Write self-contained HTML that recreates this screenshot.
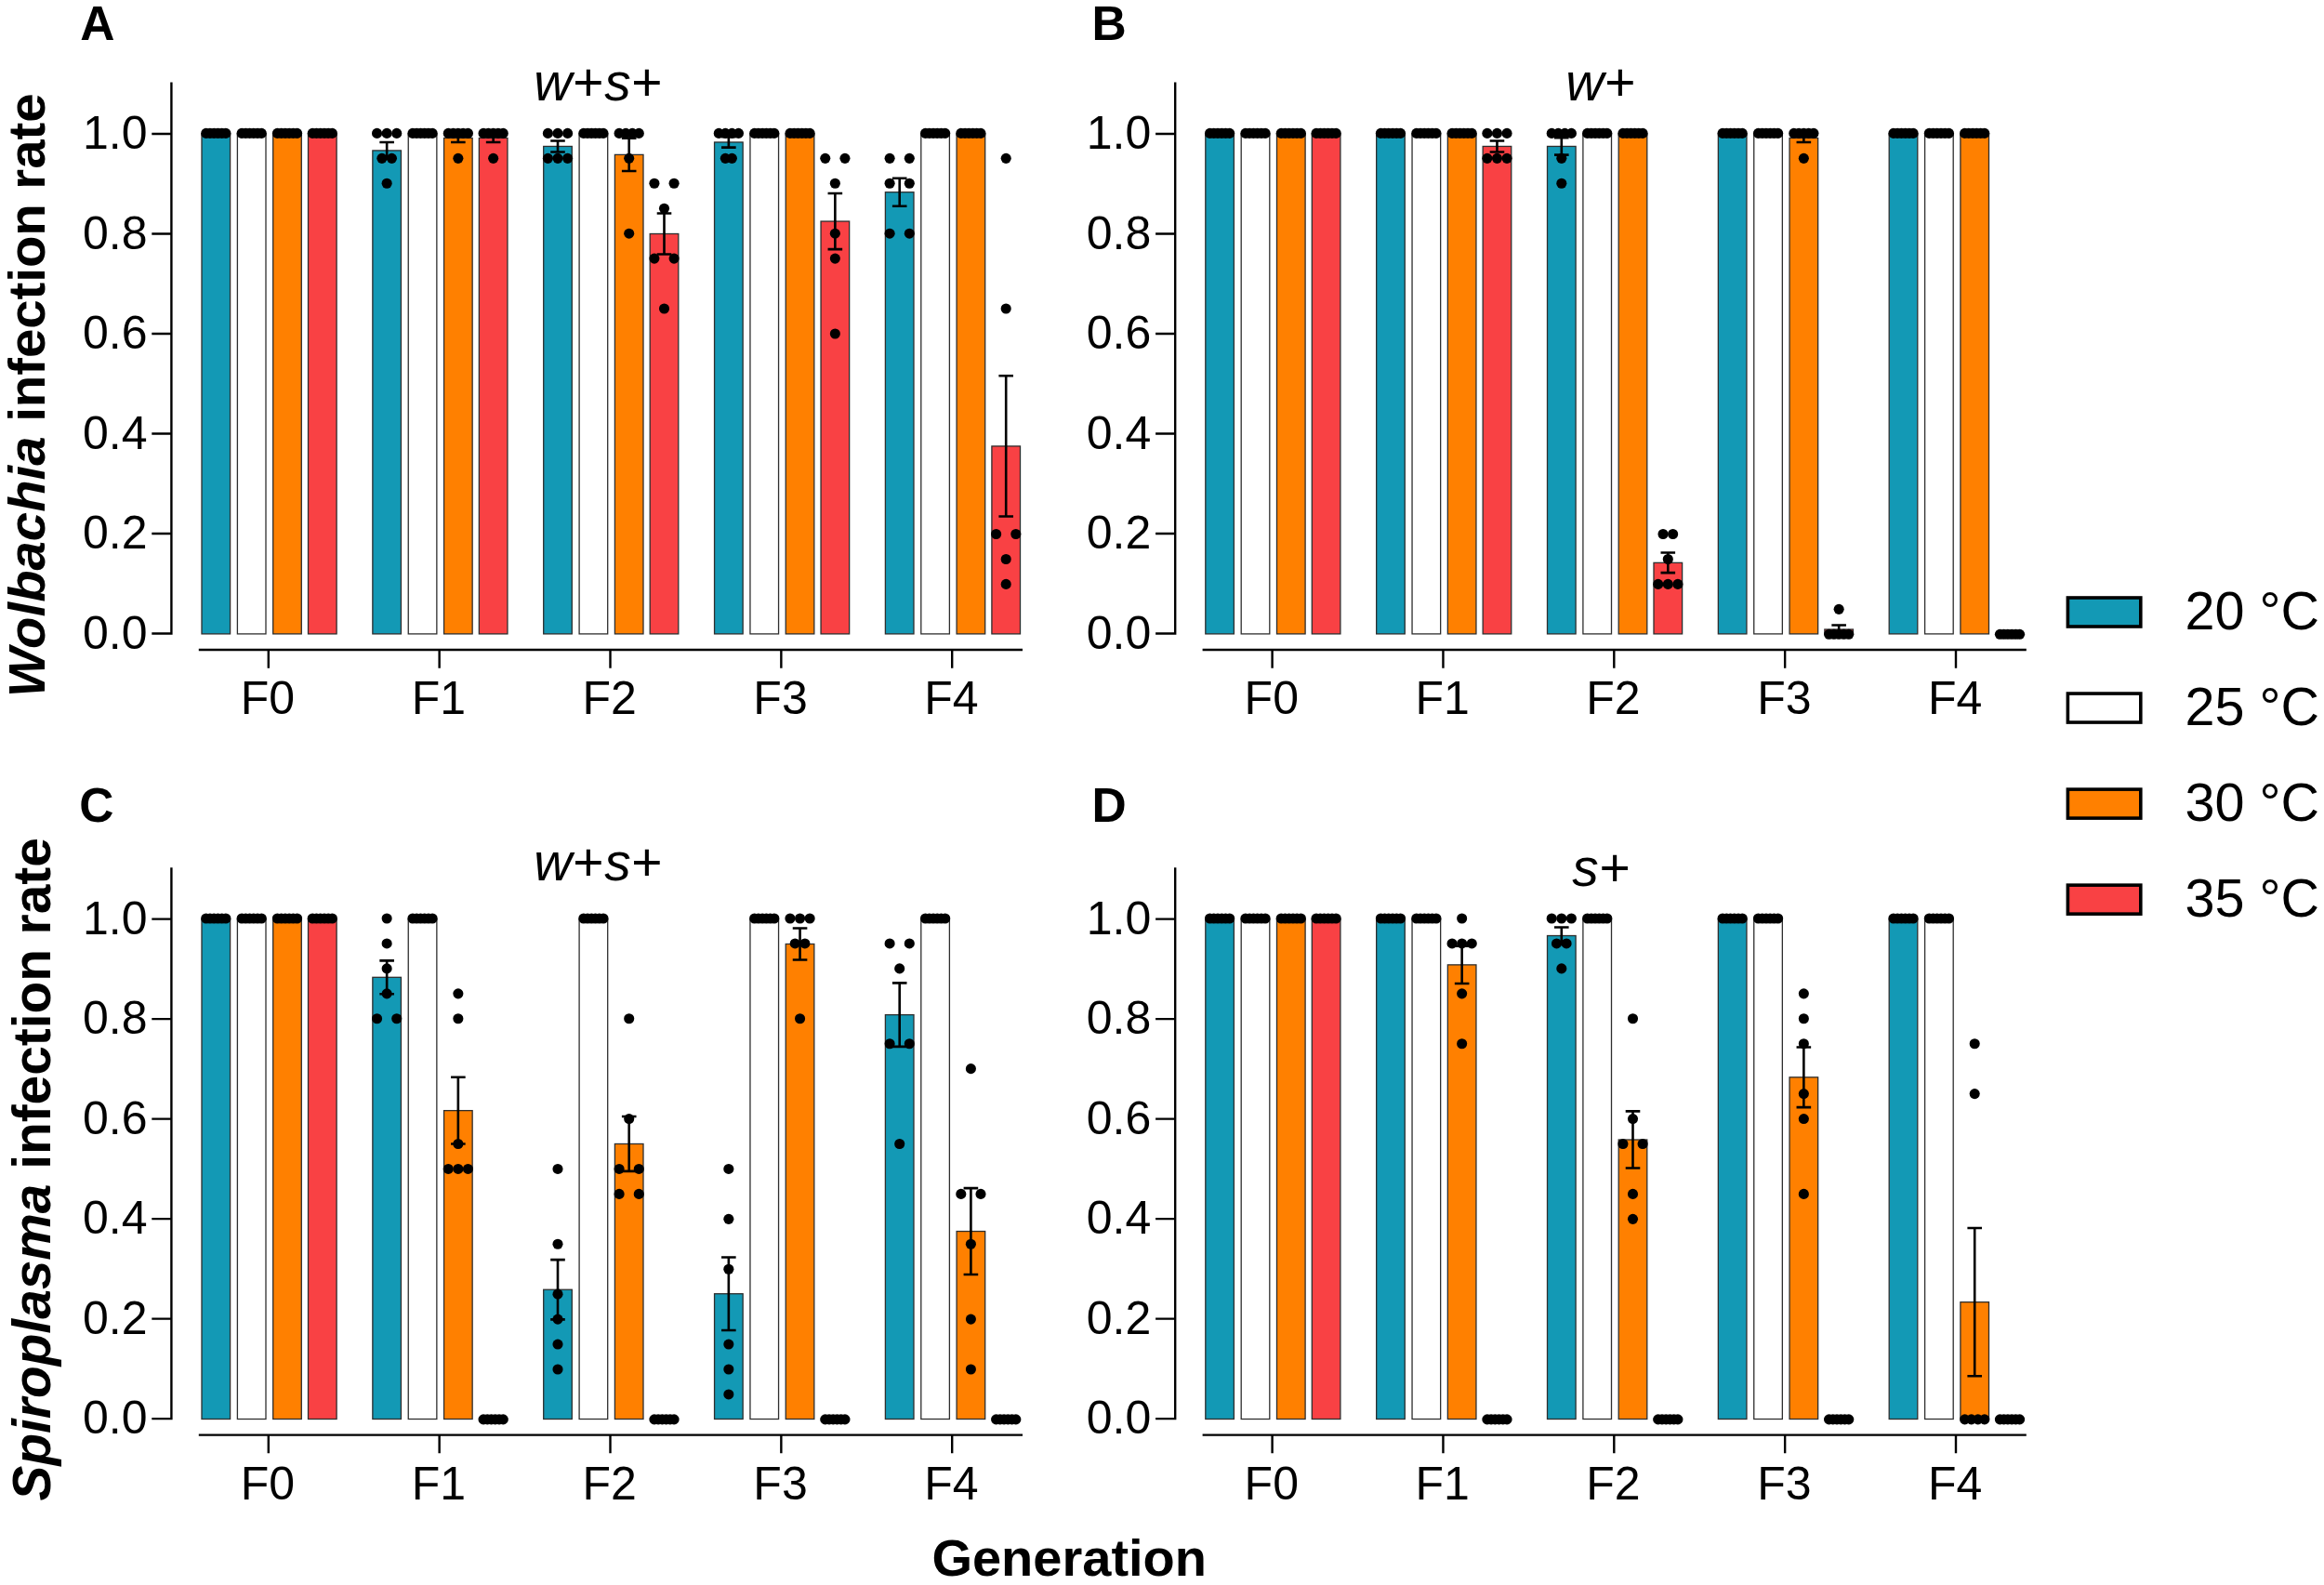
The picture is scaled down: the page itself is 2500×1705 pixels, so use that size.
<!DOCTYPE html>
<html lang="en"><head><meta charset="utf-8"><title>Infection rate by generation</title>
<style>html,body{margin:0;padding:0;background:#fff}svg{display:block}</style></head>
<body>
<svg width="2500" height="1705" viewBox="0 0 2500 1705" font-family="'Liberation Sans', Arial, Helvetica, sans-serif" fill="#000">
<rect width="2500" height="1705" fill="#fff"/>
<g transform="translate(0,0)">
<g stroke="#2e2e2e" stroke-width="1.3"><rect x="217" y="144" width="30.6" height="537.9" fill="#1399B5"/><rect x="255.4" y="144" width="30.6" height="537.9" fill="#FFFFFF"/><rect x="293.7" y="144" width="30.6" height="537.9" fill="#FF8000"/><rect x="331.5" y="144" width="30.6" height="537.9" fill="#F94144"/><rect x="400.85" y="161.92" width="30.6" height="519.98" fill="#1399B5"/><rect x="439.25" y="144" width="30.6" height="537.9" fill="#FFFFFF"/><rect x="477.55" y="148.48" width="30.6" height="533.42" fill="#FF8000"/><rect x="515.35" y="148.48" width="30.6" height="533.42" fill="#F94144"/><rect x="584.7" y="157.44" width="30.6" height="524.46" fill="#1399B5"/><rect x="623.1" y="144" width="30.6" height="537.9" fill="#FFFFFF"/><rect x="661.4" y="166.4" width="30.6" height="515.5" fill="#FF8000"/><rect x="699.2" y="251.5" width="30.6" height="430.4" fill="#F94144"/><rect x="768.55" y="152.96" width="30.6" height="528.94" fill="#1399B5"/><rect x="806.95" y="144" width="30.6" height="537.9" fill="#FFFFFF"/><rect x="845.25" y="144" width="30.6" height="537.9" fill="#FF8000"/><rect x="883.05" y="238.06" width="30.6" height="443.84" fill="#F94144"/><rect x="952.4" y="206.71" width="30.6" height="475.19" fill="#1399B5"/><rect x="990.8" y="144" width="30.6" height="537.9" fill="#FFFFFF"/><rect x="1029.1" y="144" width="30.6" height="537.9" fill="#FF8000"/><rect x="1066.9" y="479.94" width="30.6" height="201.96" fill="#F94144"/></g>
<g stroke="#000" stroke-width="2.6" fill="none"><path d="M416.15 152.96V170.88M408.35 152.96h15.6M408.35 170.88h15.6"/><path d="M492.85 144V152.96M485.05 144h15.6M485.05 152.96h15.6"/><path d="M530.65 144V152.96M522.85 144h15.6M522.85 152.96h15.6"/><path d="M600 151.43V163.45M592.2 151.43h15.6M592.2 163.45h15.6"/><path d="M676.7 148.82V183.97M668.9 148.82h15.6M668.9 183.97h15.6"/><path d="M714.5 229.56V273.44M706.7 229.56h15.6M706.7 273.44h15.6"/><path d="M783.85 147.29V158.62M776.05 147.29h15.6M776.05 158.62h15.6"/><path d="M898.35 208.02V268.11M890.55 208.02h15.6M890.55 268.11h15.6"/><path d="M967.7 191.72V221.7M959.9 191.72h15.6M959.9 221.7h15.6"/><path d="M1082.2 404.32V555.55M1074.4 404.32h15.6M1074.4 555.55h15.6"/></g>
<g fill="#000"><circle cx="221.7" cy="143.4" r="5.55"/><circle cx="225.94" cy="143.4" r="5.55"/><circle cx="230.18" cy="143.4" r="5.55"/><circle cx="234.42" cy="143.4" r="5.55"/><circle cx="238.66" cy="143.4" r="5.55"/><circle cx="242.9" cy="143.4" r="5.55"/><circle cx="260.1" cy="143.4" r="5.55"/><circle cx="264.34" cy="143.4" r="5.55"/><circle cx="268.58" cy="143.4" r="5.55"/><circle cx="272.82" cy="143.4" r="5.55"/><circle cx="277.06" cy="143.4" r="5.55"/><circle cx="281.3" cy="143.4" r="5.55"/><circle cx="298.4" cy="143.4" r="5.55"/><circle cx="302.64" cy="143.4" r="5.55"/><circle cx="306.88" cy="143.4" r="5.55"/><circle cx="311.12" cy="143.4" r="5.55"/><circle cx="315.36" cy="143.4" r="5.55"/><circle cx="319.6" cy="143.4" r="5.55"/><circle cx="336.2" cy="143.4" r="5.55"/><circle cx="340.44" cy="143.4" r="5.55"/><circle cx="344.68" cy="143.4" r="5.55"/><circle cx="348.92" cy="143.4" r="5.55"/><circle cx="353.16" cy="143.4" r="5.55"/><circle cx="357.4" cy="143.4" r="5.55"/><circle cx="405.55" cy="143.4" r="5.55"/><circle cx="416.15" cy="143.4" r="5.55"/><circle cx="426.75" cy="143.4" r="5.55"/><circle cx="410.85" cy="170.35" r="5.55"/><circle cx="421.45" cy="170.35" r="5.55"/><circle cx="416.15" cy="197.29" r="5.55"/><circle cx="443.95" cy="143.4" r="5.55"/><circle cx="448.19" cy="143.4" r="5.55"/><circle cx="452.43" cy="143.4" r="5.55"/><circle cx="456.67" cy="143.4" r="5.55"/><circle cx="460.91" cy="143.4" r="5.55"/><circle cx="465.15" cy="143.4" r="5.55"/><circle cx="482.25" cy="143.4" r="5.55"/><circle cx="487.55" cy="143.4" r="5.55"/><circle cx="492.85" cy="143.4" r="5.55"/><circle cx="498.15" cy="143.4" r="5.55"/><circle cx="503.45" cy="143.4" r="5.55"/><circle cx="492.85" cy="170.35" r="5.55"/><circle cx="520.05" cy="143.4" r="5.55"/><circle cx="525.35" cy="143.4" r="5.55"/><circle cx="530.65" cy="143.4" r="5.55"/><circle cx="535.95" cy="143.4" r="5.55"/><circle cx="541.25" cy="143.4" r="5.55"/><circle cx="530.65" cy="170.35" r="5.55"/><circle cx="589.4" cy="143.4" r="5.55"/><circle cx="600" cy="143.4" r="5.55"/><circle cx="610.6" cy="143.4" r="5.55"/><circle cx="589.4" cy="170.35" r="5.55"/><circle cx="600" cy="170.35" r="5.55"/><circle cx="610.6" cy="170.35" r="5.55"/><circle cx="627.8" cy="143.4" r="5.55"/><circle cx="632.04" cy="143.4" r="5.55"/><circle cx="636.28" cy="143.4" r="5.55"/><circle cx="640.52" cy="143.4" r="5.55"/><circle cx="644.76" cy="143.4" r="5.55"/><circle cx="649" cy="143.4" r="5.55"/><circle cx="666.1" cy="143.4" r="5.55"/><circle cx="673.17" cy="143.4" r="5.55"/><circle cx="680.23" cy="143.4" r="5.55"/><circle cx="687.3" cy="143.4" r="5.55"/><circle cx="676.7" cy="170.35" r="5.55"/><circle cx="676.7" cy="251.18" r="5.55"/><circle cx="703.9" cy="197.29" r="5.55"/><circle cx="725.1" cy="197.29" r="5.55"/><circle cx="714.5" cy="224.24" r="5.55"/><circle cx="703.9" cy="278.12" r="5.55"/><circle cx="725.1" cy="278.12" r="5.55"/><circle cx="714.5" cy="332.01" r="5.55"/><circle cx="773.25" cy="143.4" r="5.55"/><circle cx="780.32" cy="143.4" r="5.55"/><circle cx="787.38" cy="143.4" r="5.55"/><circle cx="794.45" cy="143.4" r="5.55"/><circle cx="780.32" cy="170.35" r="5.55"/><circle cx="787.38" cy="170.35" r="5.55"/><circle cx="811.65" cy="143.4" r="5.55"/><circle cx="815.89" cy="143.4" r="5.55"/><circle cx="820.13" cy="143.4" r="5.55"/><circle cx="824.37" cy="143.4" r="5.55"/><circle cx="828.61" cy="143.4" r="5.55"/><circle cx="832.85" cy="143.4" r="5.55"/><circle cx="849.95" cy="143.4" r="5.55"/><circle cx="854.19" cy="143.4" r="5.55"/><circle cx="858.43" cy="143.4" r="5.55"/><circle cx="862.67" cy="143.4" r="5.55"/><circle cx="866.91" cy="143.4" r="5.55"/><circle cx="871.15" cy="143.4" r="5.55"/><circle cx="887.75" cy="170.35" r="5.55"/><circle cx="908.95" cy="170.35" r="5.55"/><circle cx="898.35" cy="197.29" r="5.55"/><circle cx="898.35" cy="251.18" r="5.55"/><circle cx="898.35" cy="278.12" r="5.55"/><circle cx="898.35" cy="358.96" r="5.55"/><circle cx="957.1" cy="170.35" r="5.55"/><circle cx="978.3" cy="170.35" r="5.55"/><circle cx="957.1" cy="197.29" r="5.55"/><circle cx="978.3" cy="197.29" r="5.55"/><circle cx="957.1" cy="251.18" r="5.55"/><circle cx="978.3" cy="251.18" r="5.55"/><circle cx="995.5" cy="143.4" r="5.55"/><circle cx="999.74" cy="143.4" r="5.55"/><circle cx="1003.98" cy="143.4" r="5.55"/><circle cx="1008.22" cy="143.4" r="5.55"/><circle cx="1012.46" cy="143.4" r="5.55"/><circle cx="1016.7" cy="143.4" r="5.55"/><circle cx="1033.8" cy="143.4" r="5.55"/><circle cx="1038.04" cy="143.4" r="5.55"/><circle cx="1042.28" cy="143.4" r="5.55"/><circle cx="1046.52" cy="143.4" r="5.55"/><circle cx="1050.76" cy="143.4" r="5.55"/><circle cx="1055" cy="143.4" r="5.55"/><circle cx="1082.2" cy="170.35" r="5.55"/><circle cx="1082.2" cy="332.01" r="5.55"/><circle cx="1071.6" cy="574.52" r="5.55"/><circle cx="1092.8" cy="574.52" r="5.55"/><circle cx="1082.2" cy="601.46" r="5.55"/><circle cx="1082.2" cy="628.41" r="5.55"/></g>
<path d="M184.4 88.6V682.7M184.4 681.5H163.3M184.4 574H163.3M184.4 466.5H163.3M184.4 359H163.3M184.4 251.5H163.3M184.4 144H163.3M213.8 699H1100M288.8 699V718.7M472.65 699V718.7M656.5 699V718.7M840.35 699V718.7M1024.2 699V718.7" stroke="#000" stroke-width="2.4" fill="none"/>
<g font-size="50">
<text x="158.5" y="697.5" text-anchor="end">0.0</text>
<text x="158.5" y="590" text-anchor="end">0.2</text>
<text x="158.5" y="482.5" text-anchor="end">0.4</text>
<text x="158.5" y="375" text-anchor="end">0.6</text>
<text x="158.5" y="267.5" text-anchor="end">0.8</text>
<text x="158.5" y="160" text-anchor="end">1.0</text>
<text x="288" y="768.2" text-anchor="middle">F0</text>
<text x="471.85" y="768.2" text-anchor="middle">F1</text>
<text x="655.7" y="768.2" text-anchor="middle">F2</text>
<text x="839.55" y="768.2" text-anchor="middle">F3</text>
<text x="1023.4" y="768.2" text-anchor="middle">F4</text>
</g>
<text x="643.8" y="108.1" font-size="57" letter-spacing="0.7" text-anchor="middle"><tspan font-style="italic">w</tspan>+<tspan font-style="italic">s</tspan>+</text>
</g>
<text x="86.3" y="42.9" font-size="51.5" font-weight="bold">A</text>
<g transform="translate(1079.8,0)">
<g stroke="#2e2e2e" stroke-width="1.3"><rect x="217" y="144" width="30.6" height="537.9" fill="#1399B5"/><rect x="255.4" y="144" width="30.6" height="537.9" fill="#FFFFFF"/><rect x="293.7" y="144" width="30.6" height="537.9" fill="#FF8000"/><rect x="331.5" y="144" width="30.6" height="537.9" fill="#F94144"/><rect x="400.85" y="144" width="30.6" height="537.9" fill="#1399B5"/><rect x="439.25" y="144" width="30.6" height="537.9" fill="#FFFFFF"/><rect x="477.55" y="144" width="30.6" height="537.9" fill="#FF8000"/><rect x="515.35" y="157.44" width="30.6" height="524.46" fill="#F94144"/><rect x="584.7" y="157.44" width="30.6" height="524.46" fill="#1399B5"/><rect x="623.1" y="144" width="30.6" height="537.9" fill="#FFFFFF"/><rect x="661.4" y="144" width="30.6" height="537.9" fill="#FF8000"/><rect x="699.2" y="605.35" width="30.6" height="76.55" fill="#F94144"/><rect x="768.55" y="144" width="30.6" height="537.9" fill="#1399B5"/><rect x="806.95" y="144" width="30.6" height="537.9" fill="#FFFFFF"/><rect x="845.25" y="148.48" width="30.6" height="533.42" fill="#FF8000"/><rect x="883.05" y="677.02" width="30.6" height="4.88" fill="#F94144"/><rect x="952.4" y="144" width="30.6" height="537.9" fill="#1399B5"/><rect x="990.8" y="144" width="30.6" height="537.9" fill="#FFFFFF"/><rect x="1029.1" y="144" width="30.6" height="537.9" fill="#FF8000"/></g>
<g stroke="#000" stroke-width="2.6" fill="none"><path d="M530.65 151.43V163.45M522.85 151.43h15.6M522.85 163.45h15.6"/><path d="M600 148.26V166.62M592.2 148.26h15.6M592.2 166.62h15.6"/><path d="M714.5 594.57V616.14M706.7 594.57h15.6M706.7 616.14h15.6"/><path d="M860.55 144V152.96M852.75 144h15.6M852.75 152.96h15.6"/><path d="M898.35 672.54V681.5M890.55 672.54h15.6M890.55 681.5h15.6"/></g>
<g fill="#000"><circle cx="221.7" cy="143.4" r="5.55"/><circle cx="225.94" cy="143.4" r="5.55"/><circle cx="230.18" cy="143.4" r="5.55"/><circle cx="234.42" cy="143.4" r="5.55"/><circle cx="238.66" cy="143.4" r="5.55"/><circle cx="242.9" cy="143.4" r="5.55"/><circle cx="260.1" cy="143.4" r="5.55"/><circle cx="264.34" cy="143.4" r="5.55"/><circle cx="268.58" cy="143.4" r="5.55"/><circle cx="272.82" cy="143.4" r="5.55"/><circle cx="277.06" cy="143.4" r="5.55"/><circle cx="281.3" cy="143.4" r="5.55"/><circle cx="298.4" cy="143.4" r="5.55"/><circle cx="302.64" cy="143.4" r="5.55"/><circle cx="306.88" cy="143.4" r="5.55"/><circle cx="311.12" cy="143.4" r="5.55"/><circle cx="315.36" cy="143.4" r="5.55"/><circle cx="319.6" cy="143.4" r="5.55"/><circle cx="336.2" cy="143.4" r="5.55"/><circle cx="340.44" cy="143.4" r="5.55"/><circle cx="344.68" cy="143.4" r="5.55"/><circle cx="348.92" cy="143.4" r="5.55"/><circle cx="353.16" cy="143.4" r="5.55"/><circle cx="357.4" cy="143.4" r="5.55"/><circle cx="405.55" cy="143.4" r="5.55"/><circle cx="409.79" cy="143.4" r="5.55"/><circle cx="414.03" cy="143.4" r="5.55"/><circle cx="418.27" cy="143.4" r="5.55"/><circle cx="422.51" cy="143.4" r="5.55"/><circle cx="426.75" cy="143.4" r="5.55"/><circle cx="443.95" cy="143.4" r="5.55"/><circle cx="448.19" cy="143.4" r="5.55"/><circle cx="452.43" cy="143.4" r="5.55"/><circle cx="456.67" cy="143.4" r="5.55"/><circle cx="460.91" cy="143.4" r="5.55"/><circle cx="465.15" cy="143.4" r="5.55"/><circle cx="482.25" cy="143.4" r="5.55"/><circle cx="486.49" cy="143.4" r="5.55"/><circle cx="490.73" cy="143.4" r="5.55"/><circle cx="494.97" cy="143.4" r="5.55"/><circle cx="499.21" cy="143.4" r="5.55"/><circle cx="503.45" cy="143.4" r="5.55"/><circle cx="520.05" cy="143.4" r="5.55"/><circle cx="530.65" cy="143.4" r="5.55"/><circle cx="541.25" cy="143.4" r="5.55"/><circle cx="520.05" cy="170.35" r="5.55"/><circle cx="530.65" cy="170.35" r="5.55"/><circle cx="541.25" cy="170.35" r="5.55"/><circle cx="589.4" cy="143.4" r="5.55"/><circle cx="596.47" cy="143.4" r="5.55"/><circle cx="603.53" cy="143.4" r="5.55"/><circle cx="610.6" cy="143.4" r="5.55"/><circle cx="600" cy="170.35" r="5.55"/><circle cx="600" cy="197.29" r="5.55"/><circle cx="627.8" cy="143.4" r="5.55"/><circle cx="632.04" cy="143.4" r="5.55"/><circle cx="636.28" cy="143.4" r="5.55"/><circle cx="640.52" cy="143.4" r="5.55"/><circle cx="644.76" cy="143.4" r="5.55"/><circle cx="649" cy="143.4" r="5.55"/><circle cx="666.1" cy="143.4" r="5.55"/><circle cx="670.34" cy="143.4" r="5.55"/><circle cx="674.58" cy="143.4" r="5.55"/><circle cx="678.82" cy="143.4" r="5.55"/><circle cx="683.06" cy="143.4" r="5.55"/><circle cx="687.3" cy="143.4" r="5.55"/><circle cx="709.2" cy="574.52" r="5.55"/><circle cx="719.8" cy="574.52" r="5.55"/><circle cx="714.5" cy="601.46" r="5.55"/><circle cx="703.9" cy="628.41" r="5.55"/><circle cx="714.5" cy="628.41" r="5.55"/><circle cx="725.1" cy="628.41" r="5.55"/><circle cx="773.25" cy="143.4" r="5.55"/><circle cx="777.49" cy="143.4" r="5.55"/><circle cx="781.73" cy="143.4" r="5.55"/><circle cx="785.97" cy="143.4" r="5.55"/><circle cx="790.21" cy="143.4" r="5.55"/><circle cx="794.45" cy="143.4" r="5.55"/><circle cx="811.65" cy="143.4" r="5.55"/><circle cx="815.89" cy="143.4" r="5.55"/><circle cx="820.13" cy="143.4" r="5.55"/><circle cx="824.37" cy="143.4" r="5.55"/><circle cx="828.61" cy="143.4" r="5.55"/><circle cx="832.85" cy="143.4" r="5.55"/><circle cx="849.95" cy="143.4" r="5.55"/><circle cx="855.25" cy="143.4" r="5.55"/><circle cx="860.55" cy="143.4" r="5.55"/><circle cx="865.85" cy="143.4" r="5.55"/><circle cx="871.15" cy="143.4" r="5.55"/><circle cx="860.55" cy="170.35" r="5.55"/><circle cx="898.35" cy="655.35" r="5.55"/><circle cx="887.75" cy="682.3" r="5.55"/><circle cx="893.05" cy="682.3" r="5.55"/><circle cx="898.35" cy="682.3" r="5.55"/><circle cx="903.65" cy="682.3" r="5.55"/><circle cx="908.95" cy="682.3" r="5.55"/><circle cx="957.1" cy="143.4" r="5.55"/><circle cx="961.34" cy="143.4" r="5.55"/><circle cx="965.58" cy="143.4" r="5.55"/><circle cx="969.82" cy="143.4" r="5.55"/><circle cx="974.06" cy="143.4" r="5.55"/><circle cx="978.3" cy="143.4" r="5.55"/><circle cx="995.5" cy="143.4" r="5.55"/><circle cx="999.74" cy="143.4" r="5.55"/><circle cx="1003.98" cy="143.4" r="5.55"/><circle cx="1008.22" cy="143.4" r="5.55"/><circle cx="1012.46" cy="143.4" r="5.55"/><circle cx="1016.7" cy="143.4" r="5.55"/><circle cx="1033.8" cy="143.4" r="5.55"/><circle cx="1038.04" cy="143.4" r="5.55"/><circle cx="1042.28" cy="143.4" r="5.55"/><circle cx="1046.52" cy="143.4" r="5.55"/><circle cx="1050.76" cy="143.4" r="5.55"/><circle cx="1055" cy="143.4" r="5.55"/><circle cx="1071.6" cy="682.3" r="5.55"/><circle cx="1075.84" cy="682.3" r="5.55"/><circle cx="1080.08" cy="682.3" r="5.55"/><circle cx="1084.32" cy="682.3" r="5.55"/><circle cx="1088.56" cy="682.3" r="5.55"/><circle cx="1092.8" cy="682.3" r="5.55"/></g>
<path d="M184.4 88.6V682.7M184.4 681.5H163.3M184.4 574H163.3M184.4 466.5H163.3M184.4 359H163.3M184.4 251.5H163.3M184.4 144H163.3M213.8 699H1100M288.8 699V718.7M472.65 699V718.7M656.5 699V718.7M840.35 699V718.7M1024.2 699V718.7" stroke="#000" stroke-width="2.4" fill="none"/>
<g font-size="50">
<text x="158.5" y="697.5" text-anchor="end">0.0</text>
<text x="158.5" y="590" text-anchor="end">0.2</text>
<text x="158.5" y="482.5" text-anchor="end">0.4</text>
<text x="158.5" y="375" text-anchor="end">0.6</text>
<text x="158.5" y="267.5" text-anchor="end">0.8</text>
<text x="158.5" y="160" text-anchor="end">1.0</text>
<text x="288" y="768.2" text-anchor="middle">F0</text>
<text x="471.85" y="768.2" text-anchor="middle">F1</text>
<text x="655.7" y="768.2" text-anchor="middle">F2</text>
<text x="839.55" y="768.2" text-anchor="middle">F3</text>
<text x="1023.4" y="768.2" text-anchor="middle">F4</text>
</g>
<text x="642.5" y="108.1" font-size="57" letter-spacing="0.7" text-anchor="middle"><tspan font-style="italic">w</tspan>+</text>
</g>
<text x="1174.5" y="42.9" font-size="51.5" font-weight="bold">B</text>
<g transform="translate(0,844.6)">
<g stroke="#2e2e2e" stroke-width="1.3"><rect x="217" y="144" width="30.6" height="537.9" fill="#1399B5"/><rect x="255.4" y="144" width="30.6" height="537.9" fill="#FFFFFF"/><rect x="293.7" y="144" width="30.6" height="537.9" fill="#FF8000"/><rect x="331.5" y="144" width="30.6" height="537.9" fill="#F94144"/><rect x="400.85" y="206.71" width="30.6" height="475.19" fill="#1399B5"/><rect x="439.25" y="144" width="30.6" height="537.9" fill="#FFFFFF"/><rect x="477.55" y="350.04" width="30.6" height="331.86" fill="#FF8000"/><rect x="584.7" y="542.65" width="30.6" height="139.25" fill="#1399B5"/><rect x="623.1" y="144" width="30.6" height="537.9" fill="#FFFFFF"/><rect x="661.4" y="385.88" width="30.6" height="296.02" fill="#FF8000"/><rect x="768.55" y="547.12" width="30.6" height="134.77" fill="#1399B5"/><rect x="806.95" y="144" width="30.6" height="537.9" fill="#FFFFFF"/><rect x="845.25" y="170.87" width="30.6" height="511.03" fill="#FF8000"/><rect x="952.4" y="247.02" width="30.6" height="434.88" fill="#1399B5"/><rect x="990.8" y="144" width="30.6" height="537.9" fill="#FFFFFF"/><rect x="1029.1" y="479.94" width="30.6" height="201.96" fill="#FF8000"/></g>
<g stroke="#000" stroke-width="2.6" fill="none"><path d="M416.15 188.79V224.62M408.35 188.79h15.6M408.35 224.62h15.6"/><path d="M492.85 314.21V385.88M485.05 314.21h15.6M485.05 385.88h15.6"/><path d="M600 510.53V574.76M592.2 510.53h15.6M592.2 574.76h15.6"/><path d="M676.7 356.43V415.32M668.9 356.43h15.6M668.9 415.32h15.6"/><path d="M783.85 507.87V586.38M776.05 507.87h15.6M776.05 586.38h15.6"/><path d="M860.55 153.88V187.87M852.75 153.88h15.6M852.75 187.87h15.6"/><path d="M967.7 212.73V281.31M959.9 212.73h15.6M959.9 281.31h15.6"/><path d="M1044.4 433.52V526.36M1036.6 433.52h15.6M1036.6 526.36h15.6"/></g>
<g fill="#000"><circle cx="221.7" cy="143.4" r="5.55"/><circle cx="225.94" cy="143.4" r="5.55"/><circle cx="230.18" cy="143.4" r="5.55"/><circle cx="234.42" cy="143.4" r="5.55"/><circle cx="238.66" cy="143.4" r="5.55"/><circle cx="242.9" cy="143.4" r="5.55"/><circle cx="260.1" cy="143.4" r="5.55"/><circle cx="264.34" cy="143.4" r="5.55"/><circle cx="268.58" cy="143.4" r="5.55"/><circle cx="272.82" cy="143.4" r="5.55"/><circle cx="277.06" cy="143.4" r="5.55"/><circle cx="281.3" cy="143.4" r="5.55"/><circle cx="298.4" cy="143.4" r="5.55"/><circle cx="302.64" cy="143.4" r="5.55"/><circle cx="306.88" cy="143.4" r="5.55"/><circle cx="311.12" cy="143.4" r="5.55"/><circle cx="315.36" cy="143.4" r="5.55"/><circle cx="319.6" cy="143.4" r="5.55"/><circle cx="336.2" cy="143.4" r="5.55"/><circle cx="340.44" cy="143.4" r="5.55"/><circle cx="344.68" cy="143.4" r="5.55"/><circle cx="348.92" cy="143.4" r="5.55"/><circle cx="353.16" cy="143.4" r="5.55"/><circle cx="357.4" cy="143.4" r="5.55"/><circle cx="416.15" cy="143.4" r="5.55"/><circle cx="416.15" cy="170.35" r="5.55"/><circle cx="416.15" cy="197.29" r="5.55"/><circle cx="416.15" cy="224.24" r="5.55"/><circle cx="405.55" cy="251.18" r="5.55"/><circle cx="426.75" cy="251.18" r="5.55"/><circle cx="443.95" cy="143.4" r="5.55"/><circle cx="448.19" cy="143.4" r="5.55"/><circle cx="452.43" cy="143.4" r="5.55"/><circle cx="456.67" cy="143.4" r="5.55"/><circle cx="460.91" cy="143.4" r="5.55"/><circle cx="465.15" cy="143.4" r="5.55"/><circle cx="492.85" cy="224.24" r="5.55"/><circle cx="492.85" cy="251.18" r="5.55"/><circle cx="492.85" cy="385.9" r="5.55"/><circle cx="482.25" cy="412.85" r="5.55"/><circle cx="492.85" cy="412.85" r="5.55"/><circle cx="503.45" cy="412.85" r="5.55"/><circle cx="520.05" cy="682.3" r="5.55"/><circle cx="524.29" cy="682.3" r="5.55"/><circle cx="528.53" cy="682.3" r="5.55"/><circle cx="532.77" cy="682.3" r="5.55"/><circle cx="537.01" cy="682.3" r="5.55"/><circle cx="541.25" cy="682.3" r="5.55"/><circle cx="600" cy="412.85" r="5.55"/><circle cx="600" cy="493.68" r="5.55"/><circle cx="600" cy="547.57" r="5.55"/><circle cx="600" cy="574.52" r="5.55"/><circle cx="600" cy="601.46" r="5.55"/><circle cx="600" cy="628.41" r="5.55"/><circle cx="627.8" cy="143.4" r="5.55"/><circle cx="632.04" cy="143.4" r="5.55"/><circle cx="636.28" cy="143.4" r="5.55"/><circle cx="640.52" cy="143.4" r="5.55"/><circle cx="644.76" cy="143.4" r="5.55"/><circle cx="649" cy="143.4" r="5.55"/><circle cx="676.7" cy="251.18" r="5.55"/><circle cx="676.7" cy="358.96" r="5.55"/><circle cx="666.1" cy="412.85" r="5.55"/><circle cx="687.3" cy="412.85" r="5.55"/><circle cx="666.1" cy="439.79" r="5.55"/><circle cx="687.3" cy="439.79" r="5.55"/><circle cx="703.9" cy="682.3" r="5.55"/><circle cx="708.14" cy="682.3" r="5.55"/><circle cx="712.38" cy="682.3" r="5.55"/><circle cx="716.62" cy="682.3" r="5.55"/><circle cx="720.86" cy="682.3" r="5.55"/><circle cx="725.1" cy="682.3" r="5.55"/><circle cx="783.85" cy="412.85" r="5.55"/><circle cx="783.85" cy="466.74" r="5.55"/><circle cx="783.85" cy="520.63" r="5.55"/><circle cx="783.85" cy="601.46" r="5.55"/><circle cx="783.85" cy="628.41" r="5.55"/><circle cx="783.85" cy="655.35" r="5.55"/><circle cx="811.65" cy="143.4" r="5.55"/><circle cx="815.89" cy="143.4" r="5.55"/><circle cx="820.13" cy="143.4" r="5.55"/><circle cx="824.37" cy="143.4" r="5.55"/><circle cx="828.61" cy="143.4" r="5.55"/><circle cx="832.85" cy="143.4" r="5.55"/><circle cx="849.95" cy="143.4" r="5.55"/><circle cx="860.55" cy="143.4" r="5.55"/><circle cx="871.15" cy="143.4" r="5.55"/><circle cx="855.25" cy="170.35" r="5.55"/><circle cx="865.85" cy="170.35" r="5.55"/><circle cx="860.55" cy="251.18" r="5.55"/><circle cx="887.75" cy="682.3" r="5.55"/><circle cx="891.99" cy="682.3" r="5.55"/><circle cx="896.23" cy="682.3" r="5.55"/><circle cx="900.47" cy="682.3" r="5.55"/><circle cx="904.71" cy="682.3" r="5.55"/><circle cx="908.95" cy="682.3" r="5.55"/><circle cx="957.1" cy="170.35" r="5.55"/><circle cx="978.3" cy="170.35" r="5.55"/><circle cx="967.7" cy="197.29" r="5.55"/><circle cx="957.1" cy="278.12" r="5.55"/><circle cx="978.3" cy="278.12" r="5.55"/><circle cx="967.7" cy="385.9" r="5.55"/><circle cx="995.5" cy="143.4" r="5.55"/><circle cx="999.74" cy="143.4" r="5.55"/><circle cx="1003.98" cy="143.4" r="5.55"/><circle cx="1008.22" cy="143.4" r="5.55"/><circle cx="1012.46" cy="143.4" r="5.55"/><circle cx="1016.7" cy="143.4" r="5.55"/><circle cx="1044.4" cy="305.07" r="5.55"/><circle cx="1033.8" cy="439.79" r="5.55"/><circle cx="1055" cy="439.79" r="5.55"/><circle cx="1044.4" cy="493.68" r="5.55"/><circle cx="1044.4" cy="574.52" r="5.55"/><circle cx="1044.4" cy="628.41" r="5.55"/><circle cx="1071.6" cy="682.3" r="5.55"/><circle cx="1075.84" cy="682.3" r="5.55"/><circle cx="1080.08" cy="682.3" r="5.55"/><circle cx="1084.32" cy="682.3" r="5.55"/><circle cx="1088.56" cy="682.3" r="5.55"/><circle cx="1092.8" cy="682.3" r="5.55"/></g>
<path d="M184.4 88.6V682.7M184.4 681.5H163.3M184.4 574H163.3M184.4 466.5H163.3M184.4 359H163.3M184.4 251.5H163.3M184.4 144H163.3M213.8 699H1100M288.8 699V718.7M472.65 699V718.7M656.5 699V718.7M840.35 699V718.7M1024.2 699V718.7" stroke="#000" stroke-width="2.4" fill="none"/>
<g font-size="50">
<text x="158.5" y="697.5" text-anchor="end">0.0</text>
<text x="158.5" y="590" text-anchor="end">0.2</text>
<text x="158.5" y="482.5" text-anchor="end">0.4</text>
<text x="158.5" y="375" text-anchor="end">0.6</text>
<text x="158.5" y="267.5" text-anchor="end">0.8</text>
<text x="158.5" y="160" text-anchor="end">1.0</text>
<text x="288" y="768.2" text-anchor="middle">F0</text>
<text x="471.85" y="768.2" text-anchor="middle">F1</text>
<text x="655.7" y="768.2" text-anchor="middle">F2</text>
<text x="839.55" y="768.2" text-anchor="middle">F3</text>
<text x="1023.4" y="768.2" text-anchor="middle">F4</text>
</g>
<text x="643.8" y="102.9" font-size="57" letter-spacing="0.7" text-anchor="middle"><tspan font-style="italic">w</tspan>+<tspan font-style="italic">s</tspan>+</text>
</g>
<text x="85.2" y="883.9" font-size="51.5" font-weight="bold">C</text>
<g transform="translate(1079.8,844.6)">
<g stroke="#2e2e2e" stroke-width="1.3"><rect x="217" y="144" width="30.6" height="537.9" fill="#1399B5"/><rect x="255.4" y="144" width="30.6" height="537.9" fill="#FFFFFF"/><rect x="293.7" y="144" width="30.6" height="537.9" fill="#FF8000"/><rect x="331.5" y="144" width="30.6" height="537.9" fill="#F94144"/><rect x="400.85" y="144" width="30.6" height="537.9" fill="#1399B5"/><rect x="439.25" y="144" width="30.6" height="537.9" fill="#FFFFFF"/><rect x="477.55" y="193.27" width="30.6" height="488.63" fill="#FF8000"/><rect x="584.7" y="161.92" width="30.6" height="519.98" fill="#1399B5"/><rect x="623.1" y="144" width="30.6" height="537.9" fill="#FFFFFF"/><rect x="661.4" y="381.4" width="30.6" height="300.5" fill="#FF8000"/><rect x="768.55" y="144" width="30.6" height="537.9" fill="#1399B5"/><rect x="806.95" y="144" width="30.6" height="537.9" fill="#FFFFFF"/><rect x="845.25" y="314.21" width="30.6" height="367.69" fill="#FF8000"/><rect x="952.4" y="144" width="30.6" height="537.9" fill="#1399B5"/><rect x="990.8" y="144" width="30.6" height="537.9" fill="#FFFFFF"/><rect x="1029.1" y="556.08" width="30.6" height="125.82" fill="#FF8000"/></g>
<g stroke="#000" stroke-width="2.6" fill="none"><path d="M492.85 173.14V213.4M485.05 173.14h15.6M485.05 213.4h15.6"/><path d="M600 152.96V170.88M592.2 152.96h15.6M592.2 170.88h15.6"/><path d="M676.7 350.82V411.97M668.9 350.82h15.6M668.9 411.97h15.6"/><path d="M860.55 281.91V346.51M852.75 281.91h15.6M852.75 346.51h15.6"/><path d="M1044.4 476.46V635.71M1036.6 476.46h15.6M1036.6 635.71h15.6"/></g>
<g fill="#000"><circle cx="221.7" cy="143.4" r="5.55"/><circle cx="225.94" cy="143.4" r="5.55"/><circle cx="230.18" cy="143.4" r="5.55"/><circle cx="234.42" cy="143.4" r="5.55"/><circle cx="238.66" cy="143.4" r="5.55"/><circle cx="242.9" cy="143.4" r="5.55"/><circle cx="260.1" cy="143.4" r="5.55"/><circle cx="264.34" cy="143.4" r="5.55"/><circle cx="268.58" cy="143.4" r="5.55"/><circle cx="272.82" cy="143.4" r="5.55"/><circle cx="277.06" cy="143.4" r="5.55"/><circle cx="281.3" cy="143.4" r="5.55"/><circle cx="298.4" cy="143.4" r="5.55"/><circle cx="302.64" cy="143.4" r="5.55"/><circle cx="306.88" cy="143.4" r="5.55"/><circle cx="311.12" cy="143.4" r="5.55"/><circle cx="315.36" cy="143.4" r="5.55"/><circle cx="319.6" cy="143.4" r="5.55"/><circle cx="336.2" cy="143.4" r="5.55"/><circle cx="340.44" cy="143.4" r="5.55"/><circle cx="344.68" cy="143.4" r="5.55"/><circle cx="348.92" cy="143.4" r="5.55"/><circle cx="353.16" cy="143.4" r="5.55"/><circle cx="357.4" cy="143.4" r="5.55"/><circle cx="405.55" cy="143.4" r="5.55"/><circle cx="409.79" cy="143.4" r="5.55"/><circle cx="414.03" cy="143.4" r="5.55"/><circle cx="418.27" cy="143.4" r="5.55"/><circle cx="422.51" cy="143.4" r="5.55"/><circle cx="426.75" cy="143.4" r="5.55"/><circle cx="443.95" cy="143.4" r="5.55"/><circle cx="448.19" cy="143.4" r="5.55"/><circle cx="452.43" cy="143.4" r="5.55"/><circle cx="456.67" cy="143.4" r="5.55"/><circle cx="460.91" cy="143.4" r="5.55"/><circle cx="465.15" cy="143.4" r="5.55"/><circle cx="492.85" cy="143.4" r="5.55"/><circle cx="482.25" cy="170.35" r="5.55"/><circle cx="492.85" cy="170.35" r="5.55"/><circle cx="503.45" cy="170.35" r="5.55"/><circle cx="492.85" cy="224.24" r="5.55"/><circle cx="492.85" cy="278.12" r="5.55"/><circle cx="520.05" cy="682.3" r="5.55"/><circle cx="524.29" cy="682.3" r="5.55"/><circle cx="528.53" cy="682.3" r="5.55"/><circle cx="532.77" cy="682.3" r="5.55"/><circle cx="537.01" cy="682.3" r="5.55"/><circle cx="541.25" cy="682.3" r="5.55"/><circle cx="589.4" cy="143.4" r="5.55"/><circle cx="600" cy="143.4" r="5.55"/><circle cx="610.6" cy="143.4" r="5.55"/><circle cx="594.7" cy="170.35" r="5.55"/><circle cx="605.3" cy="170.35" r="5.55"/><circle cx="600" cy="197.29" r="5.55"/><circle cx="627.8" cy="143.4" r="5.55"/><circle cx="632.04" cy="143.4" r="5.55"/><circle cx="636.28" cy="143.4" r="5.55"/><circle cx="640.52" cy="143.4" r="5.55"/><circle cx="644.76" cy="143.4" r="5.55"/><circle cx="649" cy="143.4" r="5.55"/><circle cx="676.7" cy="251.18" r="5.55"/><circle cx="676.7" cy="358.96" r="5.55"/><circle cx="666.1" cy="385.9" r="5.55"/><circle cx="687.3" cy="385.9" r="5.55"/><circle cx="676.7" cy="439.79" r="5.55"/><circle cx="676.7" cy="466.74" r="5.55"/><circle cx="703.9" cy="682.3" r="5.55"/><circle cx="708.14" cy="682.3" r="5.55"/><circle cx="712.38" cy="682.3" r="5.55"/><circle cx="716.62" cy="682.3" r="5.55"/><circle cx="720.86" cy="682.3" r="5.55"/><circle cx="725.1" cy="682.3" r="5.55"/><circle cx="773.25" cy="143.4" r="5.55"/><circle cx="777.49" cy="143.4" r="5.55"/><circle cx="781.73" cy="143.4" r="5.55"/><circle cx="785.97" cy="143.4" r="5.55"/><circle cx="790.21" cy="143.4" r="5.55"/><circle cx="794.45" cy="143.4" r="5.55"/><circle cx="811.65" cy="143.4" r="5.55"/><circle cx="815.89" cy="143.4" r="5.55"/><circle cx="820.13" cy="143.4" r="5.55"/><circle cx="824.37" cy="143.4" r="5.55"/><circle cx="828.61" cy="143.4" r="5.55"/><circle cx="832.85" cy="143.4" r="5.55"/><circle cx="860.55" cy="224.24" r="5.55"/><circle cx="860.55" cy="251.18" r="5.55"/><circle cx="860.55" cy="278.12" r="5.55"/><circle cx="860.55" cy="332.01" r="5.55"/><circle cx="860.55" cy="358.96" r="5.55"/><circle cx="860.55" cy="439.79" r="5.55"/><circle cx="887.75" cy="682.3" r="5.55"/><circle cx="891.99" cy="682.3" r="5.55"/><circle cx="896.23" cy="682.3" r="5.55"/><circle cx="900.47" cy="682.3" r="5.55"/><circle cx="904.71" cy="682.3" r="5.55"/><circle cx="908.95" cy="682.3" r="5.55"/><circle cx="957.1" cy="143.4" r="5.55"/><circle cx="961.34" cy="143.4" r="5.55"/><circle cx="965.58" cy="143.4" r="5.55"/><circle cx="969.82" cy="143.4" r="5.55"/><circle cx="974.06" cy="143.4" r="5.55"/><circle cx="978.3" cy="143.4" r="5.55"/><circle cx="995.5" cy="143.4" r="5.55"/><circle cx="999.74" cy="143.4" r="5.55"/><circle cx="1003.98" cy="143.4" r="5.55"/><circle cx="1008.22" cy="143.4" r="5.55"/><circle cx="1012.46" cy="143.4" r="5.55"/><circle cx="1016.7" cy="143.4" r="5.55"/><circle cx="1044.4" cy="278.12" r="5.55"/><circle cx="1044.4" cy="332.01" r="5.55"/><circle cx="1033.8" cy="682.3" r="5.55"/><circle cx="1040.87" cy="682.3" r="5.55"/><circle cx="1047.93" cy="682.3" r="5.55"/><circle cx="1055" cy="682.3" r="5.55"/><circle cx="1071.6" cy="682.3" r="5.55"/><circle cx="1075.84" cy="682.3" r="5.55"/><circle cx="1080.08" cy="682.3" r="5.55"/><circle cx="1084.32" cy="682.3" r="5.55"/><circle cx="1088.56" cy="682.3" r="5.55"/><circle cx="1092.8" cy="682.3" r="5.55"/></g>
<path d="M184.4 88.6V682.7M184.4 681.5H163.3M184.4 574H163.3M184.4 466.5H163.3M184.4 359H163.3M184.4 251.5H163.3M184.4 144H163.3M213.8 699H1100M288.8 699V718.7M472.65 699V718.7M656.5 699V718.7M840.35 699V718.7M1024.2 699V718.7" stroke="#000" stroke-width="2.4" fill="none"/>
<g font-size="50">
<text x="158.5" y="697.5" text-anchor="end">0.0</text>
<text x="158.5" y="590" text-anchor="end">0.2</text>
<text x="158.5" y="482.5" text-anchor="end">0.4</text>
<text x="158.5" y="375" text-anchor="end">0.6</text>
<text x="158.5" y="267.5" text-anchor="end">0.8</text>
<text x="158.5" y="160" text-anchor="end">1.0</text>
<text x="288" y="768.2" text-anchor="middle">F0</text>
<text x="471.85" y="768.2" text-anchor="middle">F1</text>
<text x="655.7" y="768.2" text-anchor="middle">F2</text>
<text x="839.55" y="768.2" text-anchor="middle">F3</text>
<text x="1023.4" y="768.2" text-anchor="middle">F4</text>
</g>
<text x="643.0" y="108.5" font-size="57" letter-spacing="0.7" text-anchor="middle"><tspan font-style="italic">s</tspan>+</text>
</g>
<text x="1174.5" y="883.9" font-size="51.5" font-weight="bold">D</text>
<text transform="translate(48,750) rotate(-90)" font-size="56.3" font-weight="bold"><tspan font-style="italic">Wolbachia</tspan> infection rate</text>
<text transform="translate(53.6,1614.5) rotate(-90)" font-size="56.8" font-weight="bold"><tspan font-style="italic">Spiroplasma</tspan> infection rate</text>
<text x="1002.4" y="1695" font-size="56" font-weight="bold">Generation</text>
<rect x="2224.4" y="643" width="78.4" height="31" fill="#1399B5" stroke="#000" stroke-width="3.6"/>
<text x="2350.6" y="677.1" font-size="57.5">20 °C</text>
<rect x="2224.4" y="746.05" width="78.4" height="31" fill="#FFFFFF" stroke="#000" stroke-width="3.6"/>
<text x="2350.6" y="780.15" font-size="57.5">25 °C</text>
<rect x="2224.4" y="849.1" width="78.4" height="31" fill="#FF8000" stroke="#000" stroke-width="3.6"/>
<text x="2350.6" y="883.2" font-size="57.5">30 °C</text>
<rect x="2224.4" y="952.15" width="78.4" height="31" fill="#F94144" stroke="#000" stroke-width="3.6"/>
<text x="2350.6" y="986.25" font-size="57.5">35 °C</text>
</svg>
</body></html>
